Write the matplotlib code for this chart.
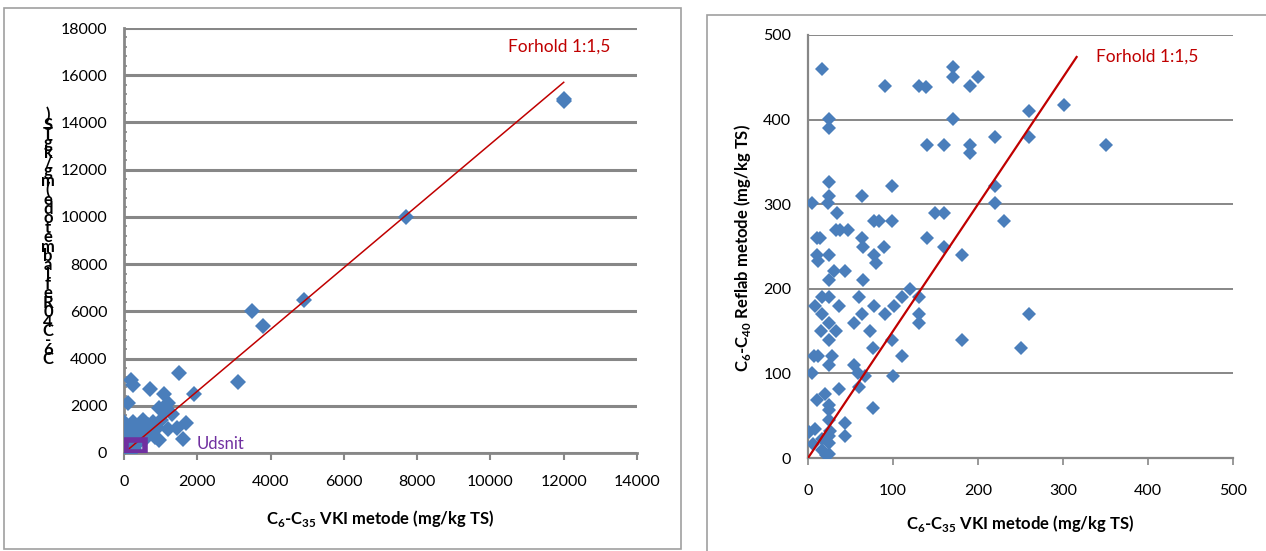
import matplotlib
matplotlib.use("Agg")
import matplotlib.pyplot as plt
from matplotlib.patches import Rectangle
from matplotlib.ticker import MultipleLocator

plt.rcParams['font.family'] = ['Lato', 'DejaVu Sans']
plt.rcParams['mathtext.fontset'] = 'custom'
plt.rcParams['mathtext.rm'] = 'Lato'
plt.rcParams['mathtext.bf'] = 'Lato:bold'

# lave koncentrationer (0-500 mg/kg TS), vist i udsnittet til hoejre
vki_lav = [16, 91, 130, 139, 170, 170, 190, 200, 25, 25, 170, 260, 301, 260, 220,
           140, 160, 190, 190, 350, 25, 25, 23, 5, 64, 99, 220, 220, 230, 34,
           149, 160, 78, 84, 99, 33, 38, 47, 10, 14, 64, 140, 65, 89, 160,
           10, 12, 25, 78, 80, 181, 30, 43, 25, 65, 16, 25, 60, 120, 111,
           130, 8, 36, 78, 101, 16, 64, 90, 130, 260, 15, 25, 33, 54, 73,
           130, 25, 99, 181, 250, 77, 7, 12, 28, 111, 25, 5, 54, 59, 67,
           100, 60, 37, 10, 20, 25, 25, 77, 25, 43, 43, 1, 8, 6, 16,
           25, 25, 21, 25, 26, 17]
reflab_lav = [460, 440, 440, 438, 462, 450, 440, 450, 401, 390, 401, 410, 417, 380, 380,
              370, 370, 370, 360, 370, 326, 310, 301, 301, 310, 321, 321, 301, 280, 290,
              290, 290, 280, 280, 280, 270, 270, 270, 260, 260, 260, 260, 250, 250, 250,
              240, 233, 240, 240, 230, 240, 221, 221, 210, 210, 190, 190, 190, 200, 190,
              190, 180, 180, 180, 180, 170, 170, 170, 170, 170, 150, 160, 150, 160, 150,
              160, 140, 140, 140, 130, 130, 120, 120, 120, 120, 110, 101, 110, 101, 97,
              97, 84, 81, 68, 76, 63, 57, 59, 45, 41, 26, 31, 34, 17, 10,
              26, 18, 3, 5, 32, 22]

# hoeje koncentrationer, kun i oversigten til venstre
vki_hoj = [12000, 12000, 7700, 4900, 3500, 3800, 3100, 1500, 1900, 700, 200, 250,
           1100, 100, 1200, 950, 1100, 1300, 1700, 1200, 1600, 950, 700, 850, 600,
           0, 250, 520, 800, 50, 300, 550, 900, 650, 400, 150, 450, 750, 1000, 50,
           300, 100, 200, 1450]
reflab_hoj = [15000, 14900, 10000, 6500, 6000, 5400, 3000, 3400, 2500, 2700, 3100, 2900,
              2500, 2100, 2100, 1900, 1800, 1650, 1250, 1000, 600, 550, 850, 680, 650,
              1300, 1300, 1400, 1300, 1100, 1050, 1100, 1050, 1200, 1200, 900, 800, 1000, 1400, 700,
              600, 550, 1000, 1050]

linje_venstre_x = [100, 12000]
linje_venstre_y = [130, 15700]
linje_hoejre_x = [0, 316]
linje_hoejre_y = [0, 474]

BLAA = '#4A7EBB'
ROED = '#C00000'
LILLA = '#7030A0'
GRAA = '#878787'

fig = plt.figure(figsize=(12.66, 5.51), dpi=100)

# rammer rundt om de to diagrammer
fig.patches.append(Rectangle((4 / 1266, 2 / 551), 677 / 1266, 541 / 551,
                             transform=fig.transFigure, fill=False, ec='#a0a0a0', lw=1.2))
fig.patches.append(Rectangle((707 / 1266, -0.05), 0.5, (551 - 15) / 551 + 0.05,
                             transform=fig.transFigure, fill=False, ec='#a0a0a0', lw=1.2))

# venstre diagram
ax1 = fig.add_axes([124 / 1266, 98 / 551, 513 / 1266, 425 / 551])
ax1.plot(vki_lav, reflab_lav, 'D', color=BLAA, ms=8, mew=0, zorder=3)
ax1.plot(vki_hoj, reflab_hoj, 'D', color=BLAA, ms=8, mew=0, zorder=3)
ax1.plot(linje_venstre_x, linje_venstre_y, color=ROED, lw=1.1, zorder=4)
ax1.add_patch(Rectangle((50, 30), 520, 520, fill=False, ec=LILLA, lw=4, zorder=5))
ax1.text(10480, 17200, 'Forhold 1:1,5', color=ROED, fontsize=12.5, va='center')
ax1.text(1980, 380, 'Udsnit', color=LILLA, fontsize=12, va='center')
ax1.set_xlim(0, 14000)
ax1.set_ylim(0, 18000)
ax1.xaxis.set_major_locator(MultipleLocator(2000))
ax1.yaxis.set_major_locator(MultipleLocator(2000))
ax1.yaxis.set_minor_locator(MultipleLocator(400))
ax1.grid(axis='y', color=GRAA, lw=2.2)
ax1.set_axisbelow(True)
for s in ['top', 'right']:
    ax1.spines[s].set_visible(False)
for s in ['left', 'bottom']:
    ax1.spines[s].set_color(GRAA)
    ax1.spines[s].set_linewidth(2)
ax1.tick_params(axis='x', direction='out', length=5, width=1.5, color=GRAA, pad=11, labelsize=11.5)
ax1.tick_params(axis='y', which='major', length=0, pad=12, labelsize=11.5)
ax1.tick_params(axis='y', which='minor', direction='in', length=2, width=1.2, color=GRAA)
ax1.set_xlabel(r'C$_\mathbf{6}$-C$_\mathbf{35}$ VKI metode (mg/kg TS)', fontweight='bold',
               fontsize=12, va='center')
ax1.xaxis.set_label_coords(0.5, -0.155)

# den forkerte lodrette aksetitel, tegnet som tegn stablet oven paa hinanden
fejl_titel = 'C6-C40 Reflab metode (mg/kg TS)'
stablet = '\n'.join(c for c in reversed(fejl_titel) if c != ' ')
fig.text(48 / 1266, 1 - 237 / 551, stablet, fontsize=12, fontweight='bold',
         ha='center', va='center', linespacing=0.49, multialignment='center')

# hoejre diagram
ax2 = fig.add_axes([808 / 1266, 93 / 551, 425 / 1266, 423 / 551])
ax2.plot(vki_lav, reflab_lav, 'D', color=BLAA, ms=6.8, mew=0, zorder=3)
ax2.plot(linje_hoejre_x, linje_hoejre_y, color=ROED, lw=1.6, zorder=4)
ax2.text(339, 475, 'Forhold 1:1,5', color=ROED, fontsize=12.5, va='center')
ax2.set_xlim(0, 500)
ax2.set_ylim(0, 500)
ax2.xaxis.set_major_locator(MultipleLocator(100))
ax2.yaxis.set_major_locator(MultipleLocator(100))
ax2.grid(axis='y', color=GRAA, lw=1.4)
ax2.set_axisbelow(True)
for s in ['top', 'right']:
    ax2.spines[s].set_visible(False)
for s in ['left', 'bottom']:
    ax2.spines[s].set_color(GRAA)
    ax2.spines[s].set_linewidth(1.6)
ax2.tick_params(axis='x', direction='out', length=5, width=1.2, color=GRAA, pad=14, labelsize=11.5)
ax2.tick_params(axis='y', length=0, pad=12, labelsize=11.5)
ax2.set_xlabel(r'C$_\mathbf{6}$-C$_\mathbf{35}$ VKI metode (mg/kg TS)', fontweight='bold',
               fontsize=12, va='center')
ax2.xaxis.set_label_coords(0.5, -0.154)
ax2.set_ylabel(r'C$_\mathbf{6}$-C$_\mathbf{40}$ Reflab metode (mg/kg TS)', fontweight='bold',
               fontsize=12, va='center', ha='center')
ax2.yaxis.set_label_coords(-0.153, 0.496)

fig.savefig('out.png', dpi=100)
